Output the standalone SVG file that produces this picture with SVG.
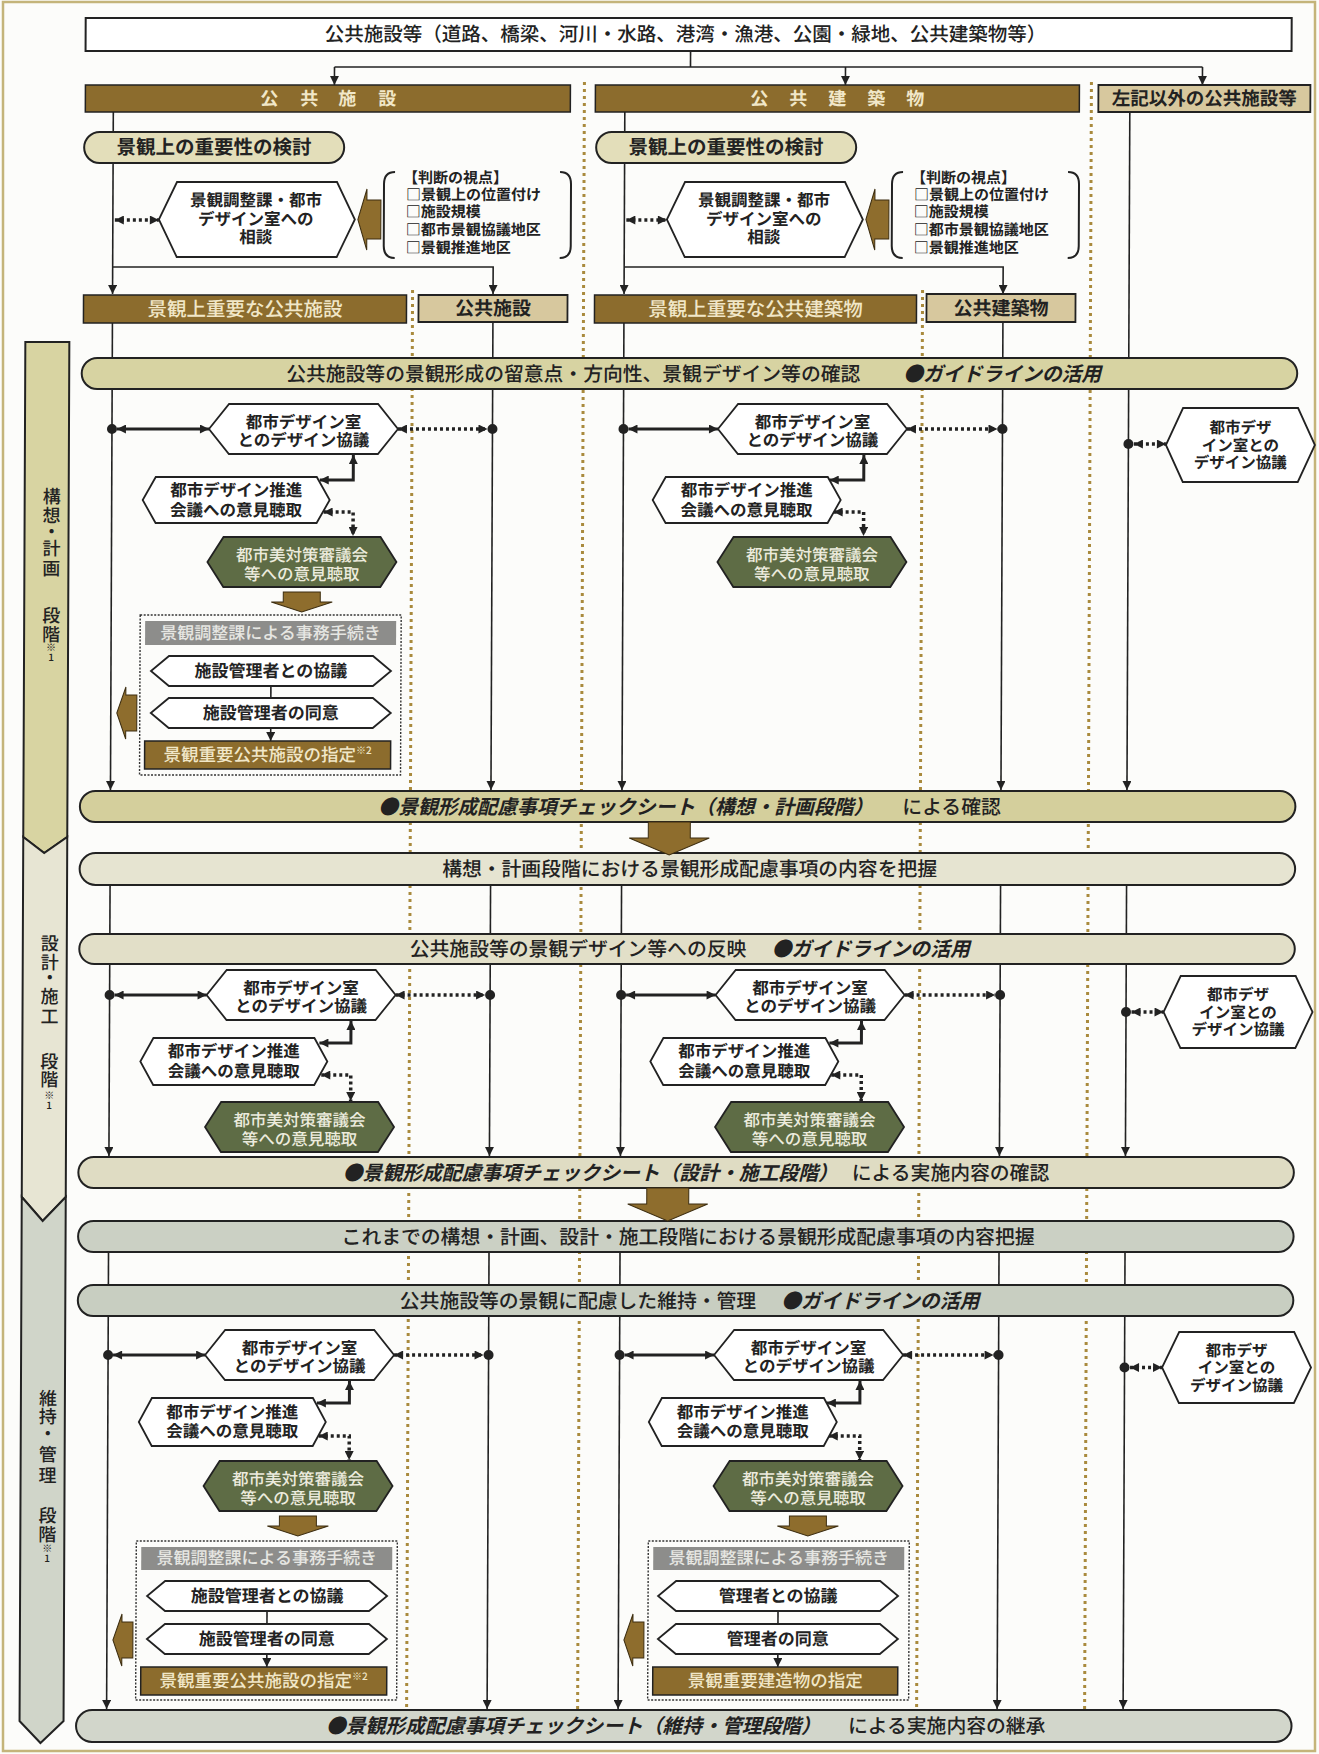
<svg xmlns="http://www.w3.org/2000/svg" width="1319" height="1754" viewBox="0 0 1319 1754">
<style>
text{font-family:'Noto Sans CJK JP','Noto Sans CJK SC',sans-serif;fill:#222}
.b{font-weight:700}
.m{font-weight:500}
.c{text-anchor:middle}
.cr{fill:#f1e7c8}
.wt{fill:#ecebdd}
.gt{fill:#e6e6e2}
.ln{stroke:#222;stroke-width:1.6;fill:none}
.tk{stroke:#222;stroke-width:3;fill:none}
.dt{stroke:#222;stroke-width:3.5;fill:none;stroke-dasharray:3 3}
.dv{stroke:#a98a3d;stroke-width:3;fill:none;stroke-dasharray:3 4}
.hx{fill:#fff;stroke:#222;stroke-width:1.8}
.gn{fill:#5e6c45;stroke:#222;stroke-width:1.8}
.br{fill:#8c6c2d;stroke:#222;stroke-width:1.5}
.tn{fill:#d7c89e;stroke:#222;stroke-width:1.8}
.ba{fill:#8e6d2d;stroke:#3c2d10;stroke-width:1}
.gy{fill:#8d8d8b}
.box{fill:none;stroke:#333;stroke-width:1.4;stroke-dasharray:2 1.5}
.bd{stroke:#222;stroke-width:2}
.it{font-weight:700;font-style:italic}
.dot{fill:#222}
</style>
<defs>
<marker id="ah" viewBox="0 0 10 10" refX="10" refY="5" markerWidth="10" markerHeight="9" markerUnits="userSpaceOnUse" orient="auto-start-reverse"><path d="M0,0L10,5L0,10z" fill="#222"/></marker>
</defs>
<rect width="1319" height="1754" fill="#fcfcfa"/>
<rect x="3" y="2" width="1312" height="1749" fill="none" stroke="#c4b47a" stroke-width="2.5"/>
<g transform="matrix(1 0 -0.0042 1 3.78 0)">
<g id="dividers">
<path class="dv" d="M410,290V1726"/>
<path class="dv" d="M581,82V1726"/>
<path class="dv" d="M920,290V1726"/>
<path class="dv" d="M1088,82V1726"/>
</g>
<g id="connectors">
<path class="ln" d="M687,51V67"/>
<path class="ln" d="M331,67H1199"/>
<path class="ln" d="M331,67V85" marker-end="url(#ah)"/>
<path class="ln" d="M842,67V85" marker-end="url(#ah)"/>
<path class="ln" d="M1199,67V85" marker-end="url(#ah)"/>
<path class="ln" d="M110,112V294" marker-end="url(#ah)"/>
<path class="ln" d="M110,267H490.5V294" marker-end="url(#ah)"/>
<path class="ln" d="M621.5,112V294" marker-end="url(#ah)"/>
<path class="ln" d="M621.5,267H1000.5V294" marker-end="url(#ah)"/>
<path class="dt" d="M112,220H156" marker-start="url(#ah)" marker-end="url(#ah)"/>
<path class="dt" d="M623.5,220H664" marker-start="url(#ah)" marker-end="url(#ah)"/>
<path class="ln" d="M1126.5,112V790" marker-end="url(#ah)"/>
<path class="ln" d="M110,323V790" marker-end="url(#ah)"/>
<path class="ln" d="M490.5,322V790" marker-end="url(#ah)"/>
<path class="ln" d="M621.5,323V790" marker-end="url(#ah)"/>
<path class="ln" d="M1000.5,322V790" marker-end="url(#ah)"/>
<path class="ln" d="M110,885V1156" marker-end="url(#ah)"/>
<path class="ln" d="M490.5,885V1156" marker-end="url(#ah)"/>
<path class="ln" d="M621.5,885V1156" marker-end="url(#ah)"/>
<path class="ln" d="M1000.5,885V1156" marker-end="url(#ah)"/>
<path class="ln" d="M1126.5,885V1156" marker-end="url(#ah)"/>
<path class="ln" d="M110,1252V1709" marker-end="url(#ah)"/>
<path class="ln" d="M490.5,1252V1709" marker-end="url(#ah)"/>
<path class="ln" d="M621.5,1252V1709" marker-end="url(#ah)"/>
<path class="ln" d="M1000.5,1252V1709" marker-end="url(#ah)"/>
<path class="ln" d="M1126.5,1252V1709" marker-end="url(#ah)"/>
<path class="tk" d="M115,429H207" marker-start="url(#ah)" marker-end="url(#ah)"/>
<path class="dt" d="M396,429H485.5" marker-start="url(#ah)" marker-end="url(#ah)"/>
<path class="tk" d="M626.5,429H716" marker-start="url(#ah)" marker-end="url(#ah)"/>
<path class="dt" d="M905,429H995.5" marker-start="url(#ah)" marker-end="url(#ah)"/>
<path class="dt" d="M1132,444H1164" marker-start="url(#ah)" marker-end="url(#ah)"/>
<path class="tk" d="M351.5,455V480H318" marker-start="url(#ah)" marker-end="url(#ah)"/>
<path class="tk" d="M862,455V480H828" marker-start="url(#ah)" marker-end="url(#ah)"/>
<path class="dt" d="M322,512H351.5V536" marker-start="url(#ah)" marker-end="url(#ah)"/>
<path class="dt" d="M832,512H862V536" marker-start="url(#ah)" marker-end="url(#ah)"/>
<path class="ln" d="M270,686V698"/>
<path class="ln" d="M270,728V741" marker-end="url(#ah)"/>
<path class="tk" d="M115,995H207" marker-start="url(#ah)" marker-end="url(#ah)"/>
<path class="dt" d="M396,995H485.5" marker-start="url(#ah)" marker-end="url(#ah)"/>
<path class="tk" d="M626.5,995H716" marker-start="url(#ah)" marker-end="url(#ah)"/>
<path class="dt" d="M905,995H995.5" marker-start="url(#ah)" marker-end="url(#ah)"/>
<path class="dt" d="M1132,1012H1164" marker-start="url(#ah)" marker-end="url(#ah)"/>
<path class="tk" d="M351.5,1021V1043H320" marker-start="url(#ah)" marker-end="url(#ah)"/>
<path class="tk" d="M862,1021V1043H830" marker-start="url(#ah)" marker-end="url(#ah)"/>
<path class="dt" d="M322,1075H351.5V1101" marker-start="url(#ah)" marker-end="url(#ah)"/>
<path class="dt" d="M832,1075H862V1101" marker-start="url(#ah)" marker-end="url(#ah)"/>
<path class="tk" d="M115,1355H207" marker-start="url(#ah)" marker-end="url(#ah)"/>
<path class="dt" d="M396,1355H485.5" marker-start="url(#ah)" marker-end="url(#ah)"/>
<path class="tk" d="M626.5,1355H716" marker-start="url(#ah)" marker-end="url(#ah)"/>
<path class="dt" d="M905,1355H995.5" marker-start="url(#ah)" marker-end="url(#ah)"/>
<path class="dt" d="M1132,1367.5H1164" marker-start="url(#ah)" marker-end="url(#ah)"/>
<path class="tk" d="M351.5,1381V1403H319" marker-start="url(#ah)" marker-end="url(#ah)"/>
<path class="tk" d="M862,1381V1403H829" marker-start="url(#ah)" marker-end="url(#ah)"/>
<path class="dt" d="M321,1436H351.5V1460" marker-start="url(#ah)" marker-end="url(#ah)"/>
<path class="dt" d="M831,1436H862V1460" marker-start="url(#ah)" marker-end="url(#ah)"/>
<path class="ln" d="M270,1611V1624"/>
<path class="ln" d="M270,1654V1667" marker-end="url(#ah)"/>
<path class="ln" d="M781,1611V1624"/>
<path class="ln" d="M781,1654V1667" marker-end="url(#ah)"/>
<circle class="dot" cx="110" cy="429" r="5"/><circle class="dot" cx="490.5" cy="429" r="5"/><circle class="dot" cx="621.5" cy="429" r="5"/><circle class="dot" cx="1000.5" cy="429" r="5"/><circle class="dot" cx="1126.5" cy="444" r="5"/>
<circle class="dot" cx="110" cy="995" r="5"/><circle class="dot" cx="490.5" cy="995" r="5"/><circle class="dot" cx="621.5" cy="995" r="5"/><circle class="dot" cx="1000.5" cy="995" r="5"/><circle class="dot" cx="1126.5" cy="1012" r="5"/>
<circle class="dot" cx="110" cy="1355" r="5"/><circle class="dot" cx="490.5" cy="1355" r="5"/><circle class="dot" cx="621.5" cy="1355" r="5"/><circle class="dot" cx="1000.5" cy="1355" r="5"/><circle class="dot" cx="1126.5" cy="1367.5" r="5"/>
</g>

<g id="phase">
<polygon points="23,342 67,342 67,837 44,853 23,837" fill="#d8d4a2" class="bd"/>
<polygon points="23,837 44,853 67,837 67,1197 44,1221 23,1197" fill="#e7e5d3" class="bd"/>
<polygon points="23,1197 44,1221 67,1197 67,1721 44,1743 23,1721" fill="#d0d5c9" class="bd"/>
<text class="c m" font-size="18"><tspan x="50 50 50 50 50" y="503 522 538 555 575">構想・計画</tspan><tspan x="50 50" y="622 641">段階</tspan><tspan font-size="10" x="50 50" y="651 661">※1</tspan></text>
<text class="c m" font-size="18"><tspan x="50 50 50 50 50" y="950 969 984 1003 1023">設計・施工</tspan><tspan x="50 50" y="1068 1086">段階</tspan><tspan font-size="10" x="50 50" y="1099 1109">※1</tspan></text>
<text class="c m" font-size="18"><tspan x="50 50 50 50 50" y="1405 1423 1440 1461 1482">維持・管理</tspan><tspan x="50 50" y="1522 1541">段階</tspan><tspan font-size="10" x="50 50" y="1552 1562">※1</tspan></text>
</g>

<g id="n-top"><rect x="82" y="18" width="1206" height="33" fill="#fff" stroke="#222" stroke-width="2"/><text class="c m" font-size="19.5" x="682" y="41.5">公共施設等（道路、橋梁、河川・水路、港湾・漁港、公園・緑地、公共建築物等）</text></g>
<g id="n-kokyo-shisetsu"><rect class="br" x="82" y="85" width="485" height="27"/><text class="c cr b" font-size="18" x="266 306 344 384" y="105.5">公共施設</text></g>
<g id="n-kokyo-kenchiku"><rect class="br" x="592" y="85" width="484" height="27"/><text class="c cr b" font-size="18" x="756 795 834 873 912" y="105.5">公共建築物</text></g>
<g id="n-sonota"><rect class="tn" x="1095" y="85" width="212" height="27"/><text class="c b" font-size="18.5" x="1201" y="105.5">左記以外の公共施設等</text></g>

<g id="n-kento-L"><rect x="81" y="132" width="260" height="31" rx="15.5" fill="#e3deba" class="bd"/><text class="c b" font-size="19.5" x="211" y="154.5">景観上の重要性の検討</text></g>
<g id="n-kento-R"><rect x="593" y="132" width="260" height="31" rx="15.5" fill="#e3deba" class="bd"/><text class="c b" font-size="19.5" x="723" y="154.5">景観上の重要性の検討</text></g>

<g id="n-sodan-L"><polygon class="hx" points="174,182 334,182 352,219.5 334,257 174,257 156,219.5"/><text class="c b" font-size="16.5"><tspan x="253" y="206.5">景観調整課・都市</tspan><tspan x="253" y="225.5">デザイン室への</tspan><tspan x="253" y="243.5">相談</tspan></text></g>
<g id="n-sodan-R"><polygon class="hx" points="682,182 842,182 860,219.5 842,257 682,257 664,219.5"/><text class="c b" font-size="16.5"><tspan x="761" y="206.5">景観調整課・都市</tspan><tspan x="761" y="225.5">デザイン室への</tspan><tspan x="761" y="243.5">相談</tspan></text></g>
<g id="n-arrowL-top"><polygon class="ba" points="378,200 378,239 364,239 364,250 355,219.5 364,189 364,200"/></g>
<g id="n-arrowR-top"><polygon class="ba" points="886,200 886,239 872,239 872,250 863,219.5 872,189 872,200"/></g>
<g id="n-shiten-L">
<path class="bd" fill="none" d="M392,172Q381,172 381,184V246Q381,258 392,258"/>
<path class="bd" fill="none" d="M557,172Q568,172 568,184V246Q568,258 557,258"/>
<text class="b" font-size="15"><tspan x="400" y="183">【判断の視点】</tspan><tspan x="403" y="200">□景観上の位置付け</tspan><tspan x="403" y="217">□施設規模</tspan><tspan x="403" y="235">□都市景観協議地区</tspan><tspan x="403" y="253">□景観推進地区</tspan></text>
</g>
<g id="n-shiten-R">
<path class="bd" fill="none" d="M900,172Q889,172 889,184V246Q889,258 900,258"/>
<path class="bd" fill="none" d="M1065,172Q1076,172 1076,184V246Q1076,258 1065,258"/>
<text class="b" font-size="15"><tspan x="908" y="183">【判断の視点】</tspan><tspan x="911" y="200">□景観上の位置付け</tspan><tspan x="911" y="217">□施設規模</tspan><tspan x="911" y="235">□都市景観協議地区</tspan><tspan x="911" y="253">□景観推進地区</tspan></text>
</g>

<g id="n-juyo-shisetsu"><rect class="br" x="81" y="295" width="323" height="28"/><text class="c cr m" font-size="19.5" x="242.5" y="316">景観上重要な公共施設</text></g>
<g id="n-shisetsu"><rect class="tn" x="416" y="295" width="149" height="27"/><text class="c b" font-size="19" x="490.5" y="315.5">公共施設</text></g>
<g id="n-juyo-kenchiku"><rect class="br" x="592" y="295" width="322" height="28"/><text class="c cr m" font-size="19.5" x="753" y="316">景観上重要な公共建築物</text></g>
<g id="n-kenchiku"><rect class="tn" x="924" y="294" width="149" height="28"/><text class="c b" font-size="19" x="998.5" y="315.5">公共建築物</text></g>

<g id="band1"><rect x="79.5" y="358" width="1215.5" height="31" rx="15.5" fill="#d7d3a2" class="bd"/><text class="m" font-size="19.8" x="284" y="381">公共施設等の景観形成の留意点・方向性、景観デザイン等の確認</text><text class="it" font-size="19.8" x="901" y="381">●ガイドラインの活用</text></g>
<g id="band2"><rect x="79.5" y="791" width="1215.5" height="31" rx="15.5" fill="#d4cf9c" class="bd"/><text class="it" font-size="19.8" x="378" y="814">●景観形成配慮事項チェックシート（構想・計画段階）</text><text class="m" font-size="19.8" x="902" y="814">による確認</text></g>
<g id="band3"><rect x="79.5" y="853" width="1215.5" height="32" rx="16" fill="#e6e4d1" class="bd"/><text class="c m" font-size="19.8" x="689.5" y="876.5">構想・計画段階における景観形成配慮事項の内容を把握</text></g>
<g id="band4"><rect x="79.5" y="934" width="1215.5" height="30" rx="15" fill="#e2dfc8" class="bd"/><text class="m" font-size="19.8" x="410" y="956.5">公共施設等の景観デザイン等への反映</text><text class="it" font-size="19.8" x="772" y="956.5">●ガイドラインの活用</text></g>
<g id="band5"><rect x="79.5" y="1157" width="1215.5" height="31" rx="15.5" fill="#dfdcc3" class="bd"/><text class="it" font-size="19.8" x="344" y="1180">●景観形成配慮事項チェックシート（設計・施工段階）</text><text class="m" font-size="19.8" x="853" y="1180">による実施内容の確認</text></g>
<g id="band6"><rect x="79.5" y="1221" width="1215.5" height="31" rx="15.5" fill="#cbd0c4" class="bd"/><text class="c m" font-size="19.8" x="689.5" y="1244">これまでの構想・計画、設計・施工段階における景観形成配慮事項の内容把握</text></g>
<g id="band7"><rect x="79.5" y="1285" width="1215.5" height="31" rx="15.5" fill="#c8cec1" class="bd"/><text class="m" font-size="19.8" x="401.5" y="1308">公共施設等の景観に配慮した維持・管理</text><text class="it" font-size="19.8" x="783" y="1308">●ガイドラインの活用</text></g>
<g id="band8"><rect x="79.5" y="1710" width="1215.5" height="32" rx="16" fill="#d2d6cb" class="bd"/><text class="it" font-size="19.8" x="329.5" y="1733.5">●景観形成配慮事項チェックシート（維持・管理段階）</text><text class="m" font-size="19.8" x="851.5" y="1733.5">による実施内容の継承</text></g>
<g id="bigarrow1"><polygon class="ba" points="648,822 690,822 690,838 709,838 669,855 629,838 648,838"/></g>
<g id="bigarrow2"><polygon class="ba" points="648,1188 690,1188 690,1204 709,1204 669,1221 629,1204 648,1204"/></g>

<g id="a-kyogi-L"><polygon class="hx" points="227,404 376,404 396,429 376,454 227,454 207,429"/><text class="c b" font-size="16.5"><tspan x="301.5" y="428">都市デザイン室</tspan><tspan x="301.5" y="446">とのデザイン協議</tspan></text></g>
<g id="a-kyogi-R"><polygon class="hx" points="736,404 885,404 905,429 885,454 736,454 716,429"/><text class="c b" font-size="16.5"><tspan x="810.5" y="428">都市デザイン室</tspan><tspan x="810.5" y="446">とのデザイン協議</tspan></text></g>
<g id="a-suishin-L"><polygon class="hx" points="154,477 315,477 328,500 315,523 154,523 141,500"/><text class="c b" font-size="16.5"><tspan x="234.5" y="496.5">都市デザイン推進</tspan><tspan x="234.5" y="516">会議への意見聴取</tspan></text></g>
<g id="a-suishin-R"><polygon class="hx" points="664,477 826,477 839,500 826,523 664,523 651,500"/><text class="c b" font-size="16.5"><tspan x="745" y="496.5">都市デザイン推進</tspan><tspan x="745" y="516">会議への意見聴取</tspan></text></g>
<g id="a-shingi-L"><polygon class="gn" points="222,537 379,537 395,562 379,587 222,587 206,562"/><text class="c wt m" font-size="16.5"><tspan x="300.5" y="561">都市美対策審議会</tspan><tspan x="300.5" y="580">等への意見聴取</tspan></text></g>
<g id="a-shingi-R"><polygon class="gn" points="732,537 889,537 905,562 889,587 732,587 716,562"/><text class="c wt m" font-size="16.5"><tspan x="810.5" y="561">都市美対策審議会</tspan><tspan x="810.5" y="580">等への意見聴取</tspan></text></g>
<g id="a-far"><polygon class="hx" points="1181,408 1296,408 1313,445 1296,482 1181,482 1164,445"/><text class="c b" font-size="15.5"><tspan x="1238.5" y="433.5">都市デザ</tspan><tspan x="1238.5" y="451">イン室との</tspan><tspan x="1238.5" y="468.5">デザイン協議</tspan></text></g>
<g id="a-down"><polygon class="ba" points="282,592 319,592 319,602 331,602 300.5,612 270,602 282,602"/></g>
<g id="a-proc">
<rect class="box" x="139" y="615" width="261" height="160"/>
<rect class="gy" x="144" y="621" width="251" height="24"/><text class="c gt m" font-size="17" x="269.5" y="639">景観調整課による事務手続き</text>
<polygon class="hx" points="168,656 372,656 390,671 372,686 168,686 150,671"/><text class="c b" font-size="17" x="270" y="677">施設管理者との協議</text>
<polygon class="hx" points="168,698 372,698 390,713 372,728 168,728 150,713"/><text class="c b" font-size="17" x="270" y="719">施設管理者の同意</text>
<rect class="br" x="144" y="741" width="246" height="28"/><text class="c cr m" font-size="17.5" x="267" y="761">景観重要公共施設の指定<tspan font-size="10" dy="-7">※2</tspan></text>
</g>
<g id="a-left"><polygon class="ba" points="136,695 136,731 125,731 125,739 116,713 125,687 125,695"/></g>

<g id="b-kyogi-L"><polygon class="hx" points="227,970 376,970 396,995 376,1020 227,1020 207,995"/><text class="c b" font-size="16.5"><tspan x="301.5" y="994">都市デザイン室</tspan><tspan x="301.5" y="1012">とのデザイン協議</tspan></text></g>
<g id="b-kyogi-R"><polygon class="hx" points="736,970 885,970 905,995 885,1020 736,1020 716,995"/><text class="c b" font-size="16.5"><tspan x="810.5" y="994">都市デザイン室</tspan><tspan x="810.5" y="1012">とのデザイン協議</tspan></text></g>
<g id="b-suishin-L"><polygon class="hx" points="154,1038 315,1038 328,1061.5 315,1085 154,1085 141,1061.5"/><text class="c b" font-size="16.5"><tspan x="234.5" y="1057.5">都市デザイン推進</tspan><tspan x="234.5" y="1077">会議への意見聴取</tspan></text></g>
<g id="b-suishin-R"><polygon class="hx" points="664,1038 826,1038 839,1061.5 826,1085 664,1085 651,1061.5"/><text class="c b" font-size="16.5"><tspan x="745" y="1057.5">都市デザイン推進</tspan><tspan x="745" y="1077">会議への意見聴取</tspan></text></g>
<g id="b-shingi-L"><polygon class="gn" points="222,1102 379,1102 395,1127 379,1152 222,1152 206,1127"/><text class="c wt m" font-size="16.5"><tspan x="300.5" y="1126">都市美対策審議会</tspan><tspan x="300.5" y="1145">等への意見聴取</tspan></text></g>
<g id="b-shingi-R"><polygon class="gn" points="732,1102 889,1102 905,1127 889,1152 732,1152 716,1127"/><text class="c wt m" font-size="16.5"><tspan x="810.5" y="1126">都市美対策審議会</tspan><tspan x="810.5" y="1145">等への意見聴取</tspan></text></g>
<g id="b-far"><polygon class="hx" points="1181,976 1296,976 1313,1012 1296,1048 1181,1048 1164,1012"/><text class="c b" font-size="15.5"><tspan x="1238.5" y="1000.5">都市デザ</tspan><tspan x="1238.5" y="1018">イン室との</tspan><tspan x="1238.5" y="1035.5">デザイン協議</tspan></text></g>

<g id="c-kyogi-L"><polygon class="hx" points="227,1330 376,1330 396,1355 376,1380 227,1380 207,1355"/><text class="c b" font-size="16.5"><tspan x="301.5" y="1354">都市デザイン室</tspan><tspan x="301.5" y="1372">とのデザイン協議</tspan></text></g>
<g id="c-kyogi-R"><polygon class="hx" points="736,1330 885,1330 905,1355 885,1380 736,1380 716,1355"/><text class="c b" font-size="16.5"><tspan x="810.5" y="1354">都市デザイン室</tspan><tspan x="810.5" y="1372">とのデザイン協議</tspan></text></g>
<g id="c-suishin-L"><polygon class="hx" points="154,1398 315,1398 328,1422 315,1446 154,1446 141,1422"/><text class="c b" font-size="16.5"><tspan x="234.5" y="1418">都市デザイン推進</tspan><tspan x="234.5" y="1437.5">会議への意見聴取</tspan></text></g>
<g id="c-suishin-R"><polygon class="hx" points="664,1398 826,1398 839,1422 826,1446 664,1446 651,1422"/><text class="c b" font-size="16.5"><tspan x="745" y="1418">都市デザイン推進</tspan><tspan x="745" y="1437.5">会議への意見聴取</tspan></text></g>
<g id="c-shingi-L"><polygon class="gn" points="222,1461 379,1461 395,1486 379,1511 222,1511 206,1486"/><text class="c wt m" font-size="16.5"><tspan x="300.5" y="1485">都市美対策審議会</tspan><tspan x="300.5" y="1504">等への意見聴取</tspan></text></g>
<g id="c-shingi-R"><polygon class="gn" points="732,1461 889,1461 905,1486 889,1511 732,1511 716,1486"/><text class="c wt m" font-size="16.5"><tspan x="810.5" y="1485">都市美対策審議会</tspan><tspan x="810.5" y="1504">等への意見聴取</tspan></text></g>
<g id="c-far"><polygon class="hx" points="1181,1332 1296,1332 1313,1367.5 1296,1403 1181,1403 1164,1367.5"/><text class="c b" font-size="15.5"><tspan x="1238.5" y="1356">都市デザ</tspan><tspan x="1238.5" y="1373.5">イン室との</tspan><tspan x="1238.5" y="1391">デザイン協議</tspan></text></g>
<g id="c-down-L"><polygon class="ba" points="282,1516 319,1516 319,1526 331,1526 300.5,1536 270,1526 282,1526"/></g>
<g id="c-down-R"><polygon class="ba" points="792,1516 829,1516 829,1526 841,1526 810.5,1536 780,1526 792,1526"/></g>
<g id="c-proc-L">
<rect class="box" x="139" y="1541" width="261" height="159"/>
<rect class="gy" x="144" y="1547" width="251" height="23"/><text class="c gt m" font-size="17" x="269.5" y="1564.5">景観調整課による事務手続き</text>
<polygon class="hx" points="168,1581 372,1581 390,1596 372,1611 168,1611 150,1596"/><text class="c b" font-size="17" x="270" y="1602">施設管理者との協議</text>
<polygon class="hx" points="168,1624 372,1624 390,1639 372,1654 168,1654 150,1639"/><text class="c b" font-size="17" x="270" y="1645">施設管理者の同意</text>
<rect class="br" x="144" y="1667" width="246" height="28"/><text class="c cr m" font-size="17.5" x="267" y="1687">景観重要公共施設の指定<tspan font-size="10" dy="-7">※2</tspan></text>
</g>
<g id="c-left-L"><polygon class="ba" points="136,1622 136,1658 125,1658 125,1666 116,1640 125,1614 125,1622"/></g>
<g id="c-proc-R">
<rect class="box" x="651" y="1541" width="261" height="159"/>
<rect class="gy" x="656" y="1547" width="251" height="23"/><text class="c gt m" font-size="17" x="781.5" y="1564.5">景観調整課による事務手続き</text>
<polygon class="hx" points="679,1581 883,1581 901,1596 883,1611 679,1611 661,1596"/><text class="c b" font-size="17" x="781" y="1602">管理者との協議</text>
<polygon class="hx" points="679,1624 883,1624 901,1639 883,1654 679,1654 661,1639"/><text class="c b" font-size="17" x="781" y="1645">管理者の同意</text>
<rect class="br" x="656" y="1667" width="245" height="28"/><text class="c cr m" font-size="17.5" x="778.5" y="1687">景観重要建造物の指定</text>
</g>
<g id="c-left-R"><polygon class="ba" points="647,1622 647,1658 636,1658 636,1666 627,1640 636,1614 636,1622"/></g>
</g>
</svg>
